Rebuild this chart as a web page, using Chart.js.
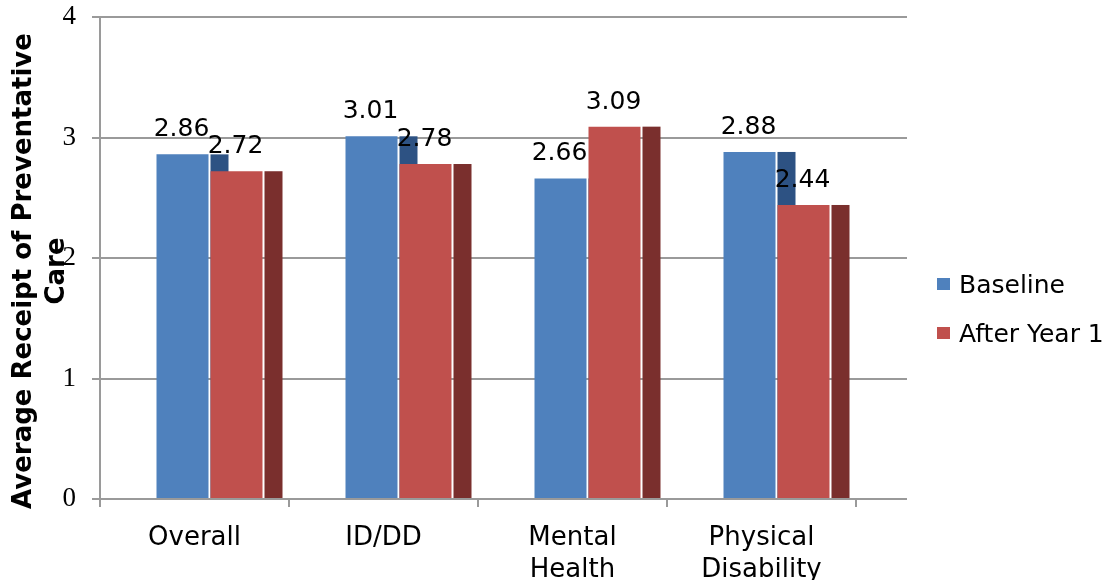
<!DOCTYPE html>
<html>
<head>
<meta charset="utf-8">
<script src="https://cdn.jsdelivr.net/npm/chart.js@4.4.1/dist/chart.umd.min.js"></script>
<style>
  html, body { margin: 0; padding: 0; background: #ffffff; }
  #wrap { width: 1120px; height: 580px; position: relative; }
</style>
</head>
<body>
<div id="wrap"><canvas id="chart"></canvas></div>
<script>
// Chart data
const categories = ['Overall', 'ID/DD', ['Mental', 'Health'], ['Physical', 'Disability']];
const baseline = [2.86, 3.01, 2.66, 2.88];
const afterYear1 = [2.72, 2.78, 3.09, 2.44];
const seriesNames = ['Baseline', 'After Year 1'];
const yTickValues = [0, 1, 2, 3, 4];
const yTitle = ['Average Receipt of Preventative', 'Care'];

// Styling
const frontColors = ['#4F81BD', '#C0504D'];
const sideColors = ['#2D5283', '#7A2F2D'];
const gridColor = '#9a9a9a';
const DEPTH_SHIFT = 15;   // bars sit slightly right of the category centre (3D look)
const SIDE_GAP = 2;
const SIDE_W = 18;
const WALL_EXTRA = 51;    // gridlines run past the last category into the depth area

Chart.defaults.font.family = "'DejaVu Sans', Verdana, sans-serif";
Chart.defaults.color = '#000000';

// Nudge bar elements to the right of their category centre
const depthShift = {
  id: 'depthShift',
  afterDatasetsUpdate(chart) {
    chart.data.datasets.forEach((ds, di) => {
      const meta = chart.getDatasetMeta(di);
      meta.data.forEach(el => { el.x += DEPTH_SHIFT; });
    });
  }
};

// Horizontal gridlines (including the baseline) extended into the depth area
const wallGrid = {
  id: 'wallGrid',
  beforeDatasetsDraw(chart) {
    const { ctx, chartArea, scales } = chart;
    ctx.save();
    ctx.strokeStyle = gridColor;
    ctx.lineWidth = 2;
    yTickValues.forEach(v => {
      const y = Math.round(scales.y.getPixelForValue(v));
      ctx.beginPath();
      ctx.moveTo(chartArea.left, y);
      ctx.lineTo(chartArea.right + WALL_EXTRA, y);
      ctx.stroke();
    });
    ctx.restore();
  }
};

// Darker side faces behind each bar
const sideFaces = {
  id: 'sideFaces',
  beforeDatasetsDraw(chart) {
    const { ctx } = chart;
    ctx.save();
    chart.data.datasets.forEach((ds, di) => {
      const meta = chart.getDatasetMeta(di);
      ctx.fillStyle = sideColors[di];
      meta.data.forEach(el => {
        const x = el.x + el.width / 2 + SIDE_GAP;
        ctx.fillRect(x, el.y, SIDE_W, el.base - el.y);
      });
    });
    ctx.restore();
  }
};

// Value labels above each bar
const valueLabels = {
  id: 'valueLabels',
  afterDatasetsDraw(chart) {
    const { ctx } = chart;
    ctx.save();
    ctx.font = "25px 'DejaVu Sans'";
    ctx.fillStyle = '#000000';
    ctx.textAlign = 'center';
    ctx.textBaseline = 'alphabetic';
    chart.data.datasets.forEach((ds, di) => {
      const meta = chart.getDatasetMeta(di);
      meta.data.forEach((el, i) => {
        ctx.fillText(ds.data[i].toFixed(2), el.x - 1, el.y - 18);
      });
    });
    ctx.restore();
  }
};

// Rotated two-line axis title and the legend at the right
const decorations = {
  id: 'decorations',
  afterDraw(chart) {
    const { ctx } = chart;
    ctx.save();
    ctx.fillStyle = '#000000';
    ctx.font = "bold 26px 'DejaVu Sans'";
    ctx.textAlign = 'center';
    ctx.textBaseline = 'alphabetic';
    const baselinesX = [31, 64];
    yTitle.forEach((line, i) => {
      ctx.save();
      ctx.translate(baselinesX[i], 271);
      ctx.rotate(-Math.PI / 2);
      ctx.fillText(line, 0, 0);
      ctx.restore();
    });

    ctx.font = "25px 'DejaVu Sans'";
    ctx.textAlign = 'left';
    chart.data.datasets.forEach((ds, i) => {
      const top = 278 + i * 49;
      ctx.fillStyle = ds.backgroundColor;
      ctx.fillRect(937, top, 13, 12);
      ctx.fillStyle = '#000000';
      ctx.fillText(ds.label, 959, top + 15);
    });
    ctx.restore();
  }
};

new Chart(document.getElementById('chart'), {
  type: 'bar',
  data: {
    labels: categories,
    datasets: [
      { label: seriesNames[0], data: baseline, backgroundColor: frontColors[0] },
      { label: seriesNames[1], data: afterYear1, backgroundColor: frontColors[1] }
    ]
  },
  options: {
    responsive: true,
    maintainAspectRatio: false,
    animation: false,
    events: [],
    barPercentage: 0.963,
    categoryPercentage: 0.5714,
    layout: { padding: { left: 0, top: 17, right: 264, bottom: 0 } },
    plugins: {
      legend: { display: false },
      tooltip: { enabled: false }
    },
    scales: {
      x: {
        grid: {
          display: true,
          drawOnChartArea: false,
          drawTicks: true,
          offset: true,
          tickLength: 8,
          color: gridColor,
          lineWidth: 2
        },
        border: { display: false },
        ticks: {
          font: { size: 26, lineHeight: 1.2 },
          color: '#000000',
          padding: 16,
          maxRotation: 0,
          autoSkip: false
        },
        afterFit(scale) { scale.height = 81; scale.paddingLeft = 0; scale.paddingRight = 0; }
      },
      y: {
        min: 0,
        max: 4,
        afterBuildTicks(scale) { scale.ticks = yTickValues.map(v => ({ value: v })); },
        grid: {
          display: true,
          drawOnChartArea: false,
          drawTicks: true,
          tickLength: 8,
          color: gridColor,
          lineWidth: 2
        },
        border: { display: true, color: gridColor, width: 2 },
        ticks: {
          font: { family: "'Liberation Serif', 'Times New Roman', serif", size: 27 },
          color: '#000000',
          padding: 16
        },
        afterFit(scale) { scale.width = 100; scale.paddingTop = 0; scale.paddingBottom = 0; }
      }
    }
  },
  plugins: [depthShift, wallGrid, sideFaces, valueLabels, decorations]
});
</script>
</body>
</html>
